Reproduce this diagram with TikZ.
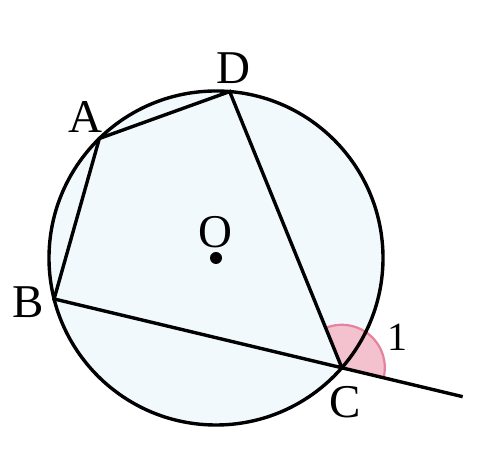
\documentclass[tikz,border=0pt]{standalone}
\usepackage{fontspec}
\setmainfont{Liberation Serif}
\usetikzlibrary{calc}
\definecolor{discblue}{RGB}{242,249,252}
\definecolor{anglefill}{RGB}{244,194,206}
\definecolor{angleline}{RGB}{230,130,155}
\begin{document}
\begin{tikzpicture}
  [x=1pt,y=1pt,line width=3.4pt,every node/.style={font=\fontsize{47}{47}\selectfont,inner sep=0pt}]
  \useasboundingbox (0,0) rectangle (477,452);
  \coordinate (O) at (216,194);
  \begin{scope}[shift={(O)}]
    \coordinate (A) at (134.3:167);
    \coordinate (D) at (85.3:167);
    \coordinate (B) at (194.2:167);
    \coordinate (C) at (-41.1:167);
  \end{scope}
  \coordinate (E) at ($(B)!1.42!(C)$);

  \fill[discblue] (O) circle (167);
  % angle 1
  \draw[line width=2.2pt,draw=angleline,fill=anglefill] (C) -- ++(-13.4:43) arc (-13.4:112.1:43) -- cycle;

  \draw (O) circle (167);
  \draw (A) -- (D) -- (C) -- (B) -- cycle;
  \draw (C) -- (E);
  \fill (O) circle (6);

  \node (nA) at (85,335) {A};
  \node (nD) at (233,384) {D};
  \node (nB) at (28,150) {B};
  \node (nC) at (345,50) {C};
  \node (nO) at (215,220) {O};
  \node (n1) [font=\fontsize{40}{40}\selectfont] at (397,115) {1};
\end{tikzpicture}
\end{document}
